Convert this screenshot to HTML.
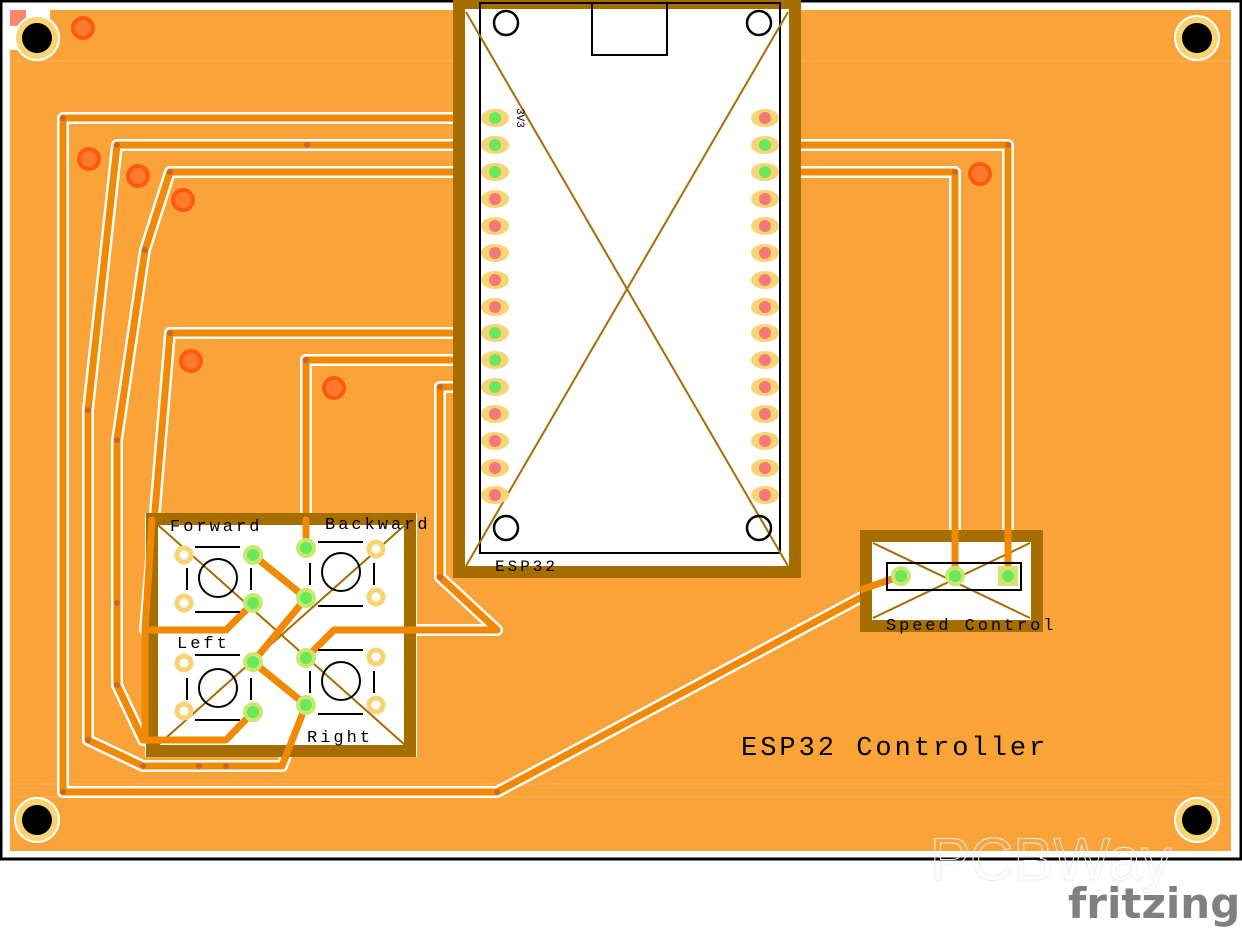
<!DOCTYPE html>
<html><head><meta charset="utf-8"><style>html,body{margin:0;padding:0;background:#fff}svg{display:block}</style></head>
<body>
<svg width="1242" height="931" viewBox="0 0 1242 931" xmlns="http://www.w3.org/2000/svg">
<rect x="0" y="0" width="1242" height="931" fill="#fff"/>
<rect x="1" y="1" width="1240" height="858" fill="#fff" stroke="#000" stroke-width="3"/>
<rect x="10" y="10" width="1221" height="841" fill="#f9a339"/>
<rect x="10" y="10" width="40" height="40" fill="#fff"/>
<rect x="10" y="10" width="16" height="16" fill="#f56a4a" opacity="0.8"/>
<g stroke="#fbb660" stroke-width="1"><line x1="10" y1="61" x2="1231" y2="61"/><line x1="10" y1="797" x2="1231" y2="797"/><line x1="10" y1="784" x2="1231" y2="784"/></g>

<g fill="none" stroke-linejoin="round" stroke-linecap="round">
<g stroke="#fff" stroke-width="12">
<polyline points="495,118 63,118 63,792 497,792 901,576"/>
<polyline points="495,145 117,145 88,410 88,740 143,766 282,766 306,705"/>
<polyline points="495,172 170,172 145,250 117,440 117,685 143,740 226,740 253,712"/>
<polyline points="495,333 170,333 145,630 226,630 253,603"/>
<polyline points="495,360 306,360 306,548"/>
<polyline points="495,387 440,387 440,577 497,630 334,630 306,658"/>
<polyline points="253,555 306,598 253,662 306,705"/>
<polyline points="765,145 1008,145 1008,576"/>
<polyline points="765,172 955,172 955,576"/>
</g>
<g stroke="#f08a05" stroke-width="7">
<polyline points="495,118 63,118 63,792 497,792 901,576"/>
<polyline points="495,145 117,145 88,410 88,740 143,766 282,766 306,705"/>
<polyline points="495,172 170,172 145,250 117,440 117,685 143,740 226,740 253,712"/>
<polyline points="495,333 170,333 145,630 226,630 253,603"/>
<polyline points="495,360 306,360 306,548"/>
<polyline points="495,387 440,387 440,577 497,630 334,630 306,658"/>
<polyline points="253,555 306,598 253,662 306,705"/>
<polyline points="765,145 1008,145 1008,576"/>
<polyline points="765,172 955,172 955,576"/>
</g>
</g>
<g fill="#c9672a"><circle cx="63" cy="118" r="3"/><circle cx="117" cy="145" r="3"/><circle cx="307" cy="145" r="3"/><circle cx="170" cy="172" r="3"/><circle cx="145" cy="250" r="3"/><circle cx="88" cy="410" r="3"/><circle cx="117" cy="440" r="3"/><circle cx="170" cy="333" r="3"/><circle cx="306" cy="360" r="3"/><circle cx="440" cy="387" r="3"/><circle cx="63" cy="792" r="3"/><circle cx="497" cy="792" r="3"/><circle cx="143" cy="766" r="3"/><circle cx="199" cy="766" r="3"/><circle cx="226" cy="766" r="3"/><circle cx="282" cy="766" r="3"/><circle cx="88" cy="740" r="3"/><circle cx="117" cy="685" r="3"/><circle cx="143" cy="740" r="3"/><circle cx="226" cy="740" r="3"/><circle cx="145" cy="630" r="3"/><circle cx="226" cy="630" r="3"/><circle cx="497" cy="630" r="3"/><circle cx="334" cy="630" r="3"/><circle cx="440" cy="577" r="3"/><circle cx="1008" cy="145" r="3"/><circle cx="955" cy="172" r="3"/><circle cx="117" cy="603" r="3"/></g>

<g fill="#ff7a2a" stroke="#ff5a10" stroke-width="4">
<circle cx="83" cy="28" r="10"/><circle cx="89" cy="159" r="10"/><circle cx="138" cy="176" r="10"/><circle cx="183" cy="200" r="10"/><circle cx="191" cy="361" r="10"/><circle cx="334" cy="388" r="10"/><circle cx="980" cy="174" r="10"/>
</g>
<g><g fill="#f7d575" stroke="#fff" stroke-width="2">
<circle cx="37" cy="38" r="22"/><circle cx="1197" cy="38" r="22"/><circle cx="37" cy="820" r="22"/><circle cx="1197" cy="820" r="22"/></g>
<g fill="#000"><circle cx="37" cy="38" r="15"/><circle cx="1197" cy="38" r="15"/><circle cx="37" cy="820" r="15"/><circle cx="1197" cy="820" r="15"/></g></g>

<rect x="453" y="0" width="348" height="578" fill="#fff"/>
<rect x="459" y="3" width="336" height="569" fill="none" stroke="#a66e00" stroke-width="12"/>
<rect x="480" y="3" width="300" height="550" fill="none" stroke="#000" stroke-width="2"/>
<rect x="592" y="3" width="75" height="52" fill="none" stroke="#000" stroke-width="2"/>
<g stroke="#a66e00" stroke-width="2"><line x1="466" y1="12" x2="788" y2="566"/><line x1="788" y1="12" x2="466" y2="566"/></g>
<g fill="none" stroke="#000" stroke-width="2.5"><circle cx="506" cy="23" r="12"/><circle cx="759" cy="23" r="12"/><circle cx="506" cy="528" r="12"/><circle cx="759" cy="528" r="12"/></g>
<text x="0" y="0" transform="translate(517,108) rotate(90)" font-family="Liberation Mono, monospace" font-size="11" fill="#000">3V3</text>
<g>
<g fill="#f7d575">
<ellipse cx="495" cy="118" rx="14" ry="9"/><ellipse cx="495" cy="145" rx="14" ry="9"/><ellipse cx="495" cy="172" rx="14" ry="9"/><ellipse cx="495" cy="199" rx="14" ry="9"/><ellipse cx="495" cy="226" rx="14" ry="9"/><ellipse cx="495" cy="253" rx="14" ry="9"/><ellipse cx="495" cy="280" rx="14" ry="9"/><ellipse cx="495" cy="307" rx="14" ry="9"/><ellipse cx="495" cy="333" rx="14" ry="9"/><ellipse cx="495" cy="360" rx="14" ry="9"/><ellipse cx="495" cy="387" rx="14" ry="9"/><ellipse cx="495" cy="414" rx="14" ry="9"/><ellipse cx="495" cy="441" rx="14" ry="9"/><ellipse cx="495" cy="468" rx="14" ry="9"/><ellipse cx="495" cy="495" rx="14" ry="9"/>
<ellipse cx="765" cy="118" rx="14" ry="9"/><ellipse cx="765" cy="145" rx="14" ry="9"/><ellipse cx="765" cy="172" rx="14" ry="9"/><ellipse cx="765" cy="199" rx="14" ry="9"/><ellipse cx="765" cy="226" rx="14" ry="9"/><ellipse cx="765" cy="253" rx="14" ry="9"/><ellipse cx="765" cy="280" rx="14" ry="9"/><ellipse cx="765" cy="307" rx="14" ry="9"/><ellipse cx="765" cy="333" rx="14" ry="9"/><ellipse cx="765" cy="360" rx="14" ry="9"/><ellipse cx="765" cy="387" rx="14" ry="9"/><ellipse cx="765" cy="414" rx="14" ry="9"/><ellipse cx="765" cy="441" rx="14" ry="9"/><ellipse cx="765" cy="468" rx="14" ry="9"/><ellipse cx="765" cy="495" rx="14" ry="9"/>
</g>
<g fill="#f47878">
<circle cx="495" cy="199" r="6"/><circle cx="495" cy="226" r="6"/><circle cx="495" cy="253" r="6"/><circle cx="495" cy="280" r="6"/><circle cx="495" cy="307" r="6"/><circle cx="495" cy="414" r="6"/><circle cx="495" cy="441" r="6"/><circle cx="495" cy="468" r="6"/><circle cx="495" cy="495" r="6"/>
<circle cx="765" cy="118" r="6"/><circle cx="765" cy="199" r="6"/><circle cx="765" cy="226" r="6"/><circle cx="765" cy="253" r="6"/><circle cx="765" cy="280" r="6"/><circle cx="765" cy="307" r="6"/><circle cx="765" cy="333" r="6"/><circle cx="765" cy="360" r="6"/><circle cx="765" cy="387" r="6"/><circle cx="765" cy="414" r="6"/><circle cx="765" cy="441" r="6"/><circle cx="765" cy="468" r="6"/><circle cx="765" cy="495" r="6"/>
</g>
<g fill="#6be85a">
<circle cx="495" cy="118" r="6"/><circle cx="495" cy="145" r="6"/><circle cx="495" cy="172" r="6"/><circle cx="495" cy="333" r="6"/><circle cx="495" cy="360" r="6"/><circle cx="495" cy="387" r="6"/><circle cx="765" cy="145" r="6"/><circle cx="765" cy="172" r="6"/>
</g></g>
<text x="495" y="571" font-family="Liberation Mono, monospace" font-size="16" letter-spacing="3" fill="#000">ESP32</text>

<rect x="145" y="513" width="272" height="244" fill="#fff"/>
<rect x="152" y="519" width="258" height="232" fill="none" stroke="#a66e00" stroke-width="12"/>
<g stroke="#a66e00" stroke-width="2"><line x1="158" y1="525" x2="405" y2="745"/><line x1="405" y1="525" x2="158" y2="745"/></g>
<g fill="none" stroke="#f08a05" stroke-width="7" stroke-linecap="round" stroke-linejoin="round">
<polyline points="306,520 306,548"/>
<polyline points="145,630 226,630 253,603"/>
<polyline points="497,630 334,630 306,658"/>
<polyline points="253,555 306,598 253,662 306,705"/>
<polyline points="143,740 226,740 253,712"/>
<polyline points="282,766 306,705"/>
<polyline points="152,520 145,630 145,740"/>
</g>
<g fill="none" stroke="#000" stroke-width="2">
<circle cx="218" cy="578" r="19"/><circle cx="341" cy="572" r="19"/><circle cx="218" cy="688" r="19"/><circle cx="341" cy="681" r="19"/>
<path d="M195 547h45M195 612h45M187 568v22M251 568v22"/>
<path d="M318 542h45M318 606h45M310 563v22M374 563v22"/>
<path d="M195 655h45M195 720h45M187 678v22M251 678v22"/>
<path d="M318 650h45M318 714h45M310 671v22M374 671v22"/>
</g>
<g fill="#fff" stroke="#f7d575" stroke-width="5">
<circle cx="184" cy="555" r="7"/><circle cx="184" cy="603" r="7"/><circle cx="376" cy="549" r="7"/><circle cx="376" cy="597" r="7"/>
<circle cx="184" cy="663" r="7"/><circle cx="184" cy="711" r="7"/><circle cx="376" cy="657" r="7"/><circle cx="376" cy="705" r="7"/>
</g>
<g fill="#6be85a" stroke="#c8e870" stroke-width="4">
<circle cx="253" cy="555" r="8"/><circle cx="253" cy="603" r="8"/><circle cx="306" cy="548" r="8"/><circle cx="306" cy="598" r="8"/>
<circle cx="253" cy="662" r="8"/><circle cx="253" cy="712" r="8"/><circle cx="306" cy="658" r="8"/><circle cx="306" cy="705" r="8"/>
</g>
<g font-family="Liberation Mono, monospace" font-size="17" letter-spacing="3" fill="#000">
<text x="170" y="531">Forward</text><text x="325" y="529">Backward</text><text x="177" y="648">Left</text><text x="307" y="742">Right</text>
</g>

<rect x="860" y="530" width="183" height="102" fill="#fff"/>
<rect x="866" y="536" width="171" height="90" fill="none" stroke="#a66e00" stroke-width="12"/>
<g stroke="#a66e00" stroke-width="2"><line x1="873" y1="543" x2="1030" y2="618"/><line x1="1030" y1="543" x2="873" y2="618"/></g>
<g stroke="#f08a05" stroke-width="7"><line x1="955" y1="530" x2="955" y2="576"/><line x1="1008" y1="530" x2="1008" y2="576"/><line x1="860" y1="590" x2="901" y2="576"/></g>
<rect x="887" y="563" width="134" height="27" fill="none" stroke="#000" stroke-width="2"/>
<rect x="998" y="566" width="20" height="20" fill="#f7d575"/>
<g fill="#6be85a" stroke="#c8e870" stroke-width="4"><circle cx="901" cy="576" r="8"/><circle cx="955" cy="576" r="8"/><circle cx="1008" cy="576" r="8"/></g>
<text x="886" y="630" font-family="Liberation Mono, monospace" font-size="17" letter-spacing="2.9" fill="#000">Speed Control</text>

<text x="741" y="755" font-family="Liberation Mono, DejaVu Sans Mono, monospace" font-size="27" letter-spacing="3" fill="#000">ESP32 Controller</text>

<text x="930" y="880" font-family="Liberation Sans, sans-serif" font-size="60" fill="none" stroke="#eee" stroke-width="1">PCBWay</text>
<text x="1068" y="918" font-family="DejaVu Sans, Liberation Sans, sans-serif" font-size="42" font-weight="bold" fill="#808080">fritzing</text>
</svg>
</body></html>
